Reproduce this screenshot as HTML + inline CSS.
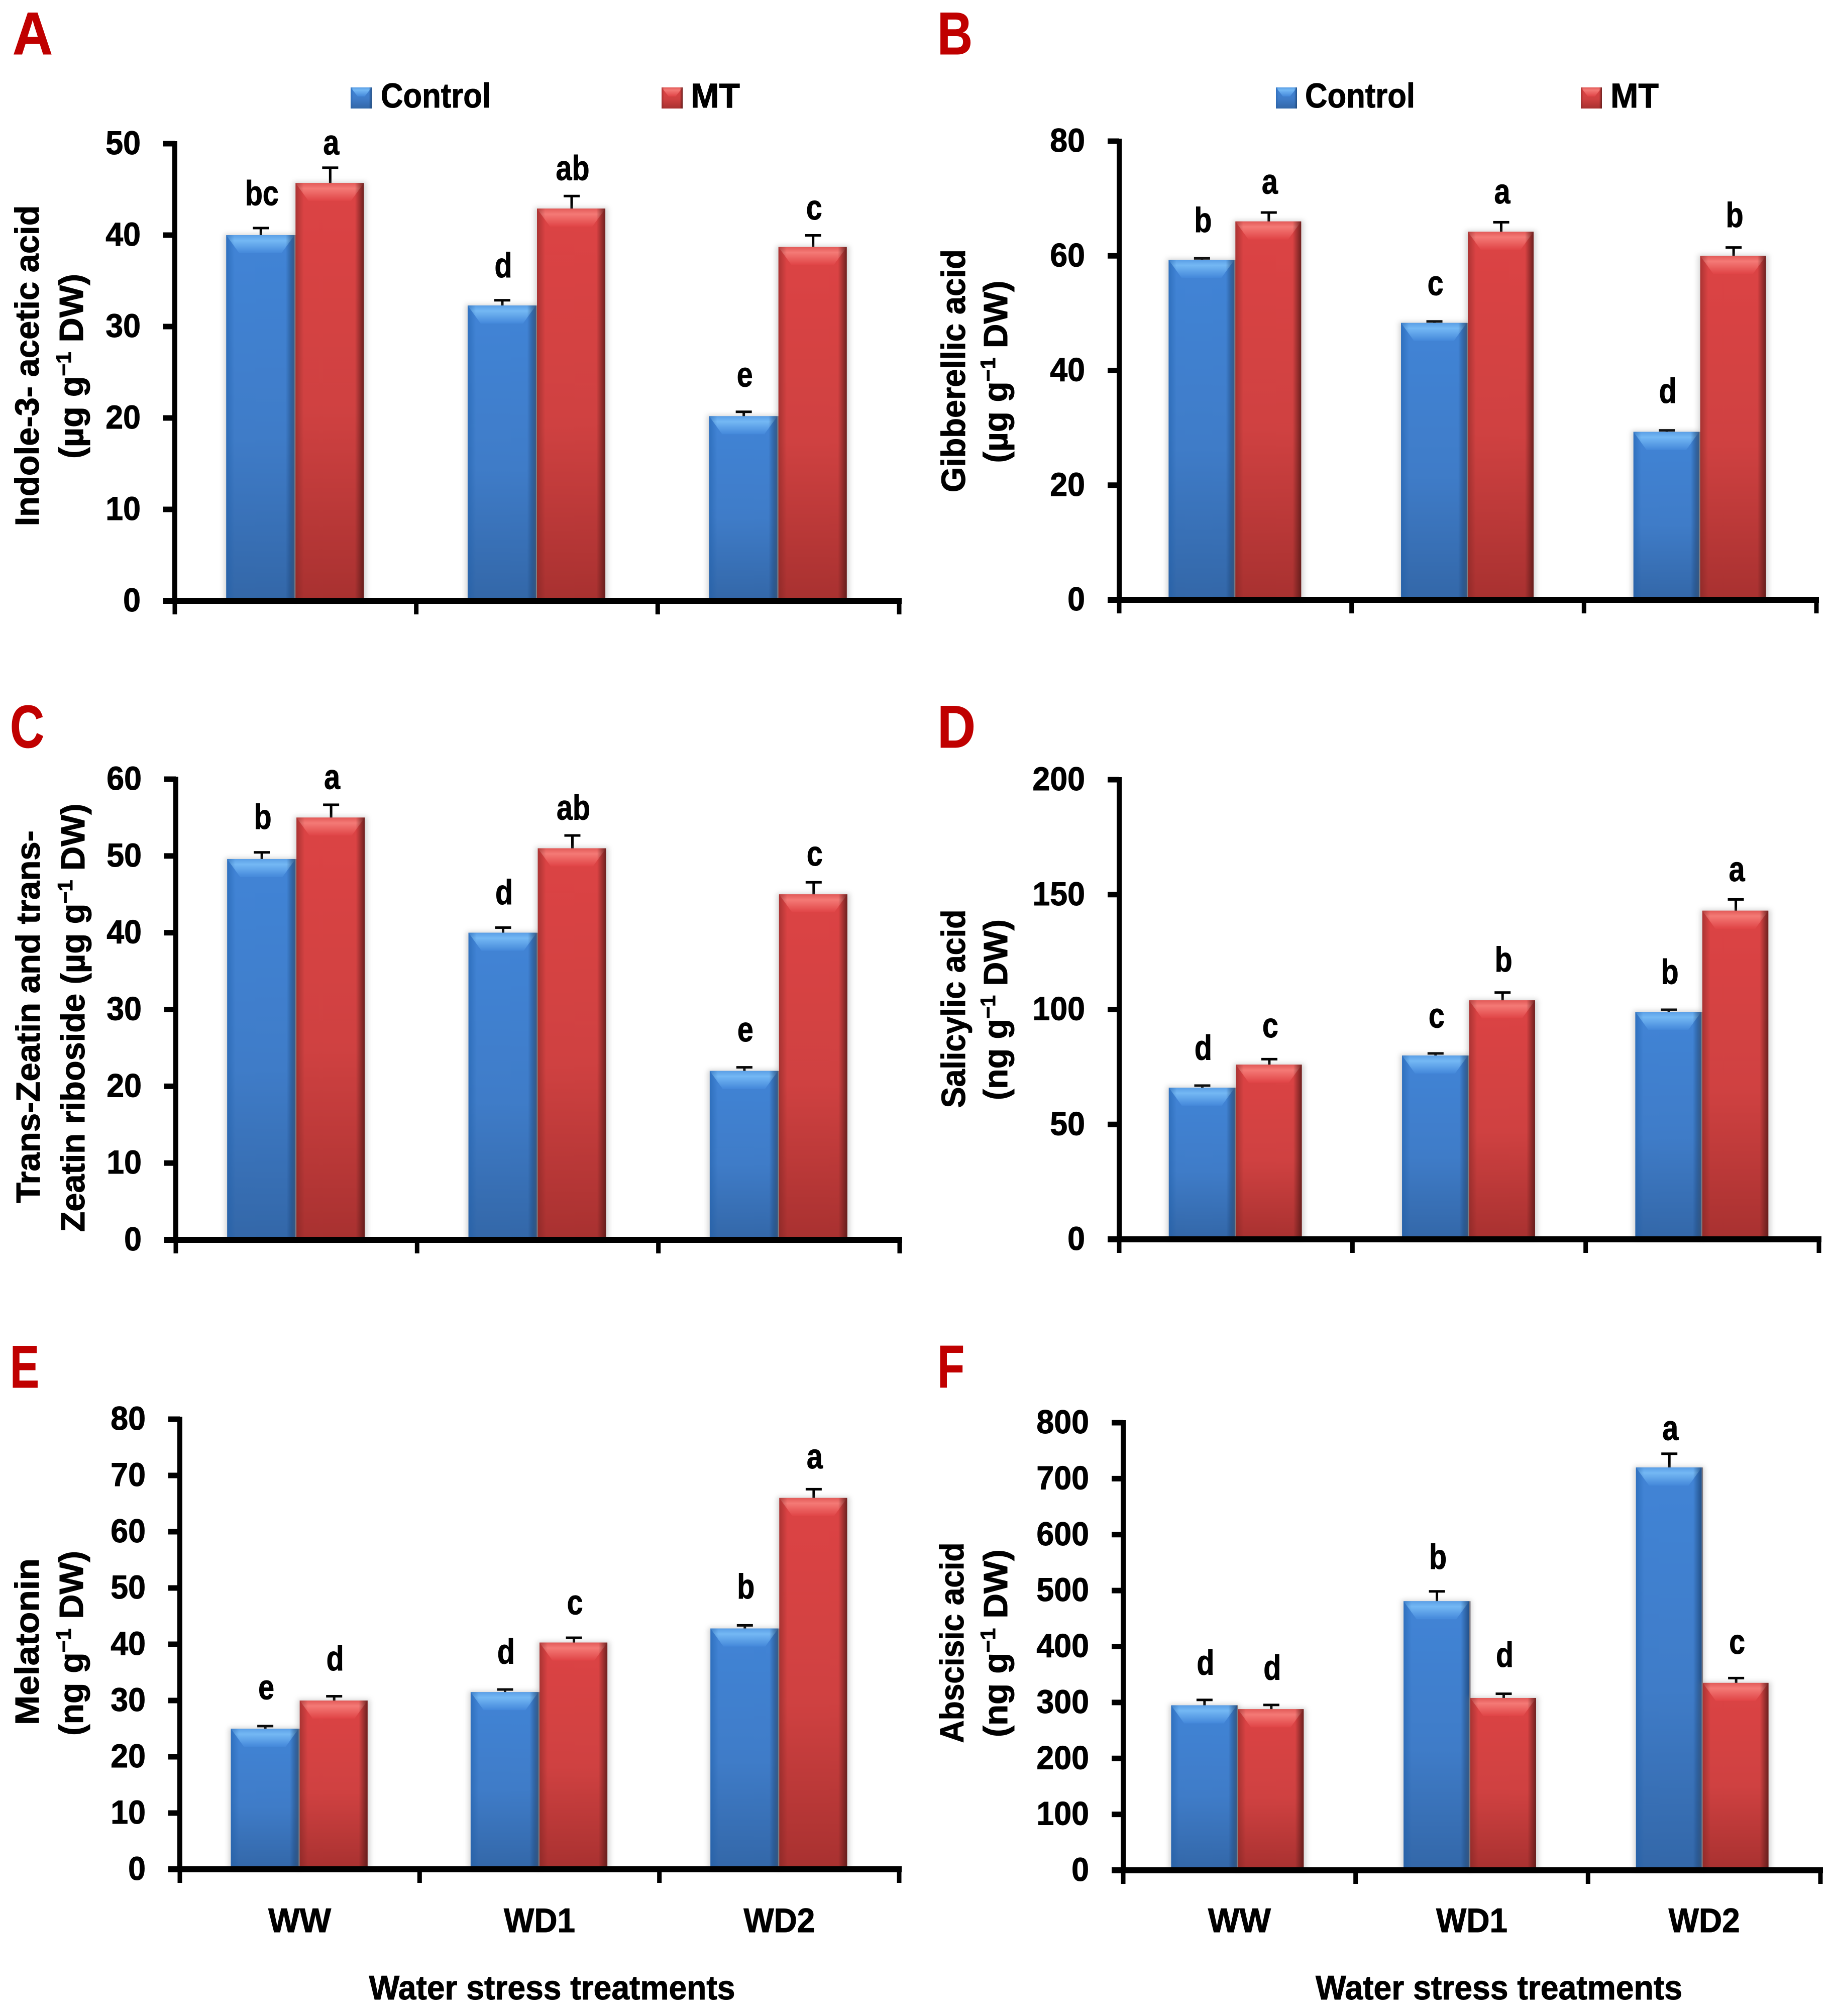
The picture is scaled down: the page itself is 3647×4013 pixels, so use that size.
<!DOCTYPE html>
<html lang="en">
<head>
<meta charset="utf-8">
<title>Hormone content under water stress treatments</title>
<style>
  html, body { margin: 0; padding: 0; background: #fff; }
  svg { display: block; }
  text { font-family: "Liberation Sans", Arial, sans-serif; font-weight: 700; fill: #000; stroke: #000; stroke-width: 1px; }
</style>
</head>
<body>
<svg id="figure" xmlns="http://www.w3.org/2000/svg" width="3647" height="4013" viewBox="0 0 3647 4013">
  <defs>
    <linearGradient id="blueBody" x1="0" y1="0" x2="0" y2="1">
      <stop offset="0" stop-color="#4184d6"/><stop offset="0.55" stop-color="#3f7cc8"/><stop offset="1" stop-color="#3367a8"/>
    </linearGradient>
    <linearGradient id="redBody" x1="0" y1="0" x2="0" y2="1">
      <stop offset="0" stop-color="#dc4344"/><stop offset="0.55" stop-color="#cf4141"/><stop offset="1" stop-color="#a83130"/>
    </linearGradient>
    <linearGradient id="blueBevel" x1="0" y1="0" x2="0" y2="1">
      <stop offset="0" stop-color="#5b9fe6"/><stop offset="0.3" stop-color="#74b8f4"/><stop offset="1" stop-color="#4488da"/>
    </linearGradient>
    <linearGradient id="redBevel" x1="0" y1="0" x2="0" y2="1">
      <stop offset="0" stop-color="#e25a58"/><stop offset="0.3" stop-color="#f47a76"/><stop offset="1" stop-color="#e04446"/>
    </linearGradient>
    <linearGradient id="blueSides" x1="0" y1="0" x2="1" y2="0">
      <stop offset="0" stop-color="#1d5da8" stop-opacity="0.5"/><stop offset="0.12" stop-color="#1d5da8" stop-opacity="0"/>
      <stop offset="0.87" stop-color="#173f70" stop-opacity="0"/><stop offset="1" stop-color="#173f70" stop-opacity="0.75"/>
    </linearGradient>
    <linearGradient id="redSides" x1="0" y1="0" x2="1" y2="0">
      <stop offset="0" stop-color="#7a2422" stop-opacity="0.5"/><stop offset="0.12" stop-color="#7a2422" stop-opacity="0"/>
      <stop offset="0.87" stop-color="#5a1a18" stop-opacity="0"/><stop offset="1" stop-color="#5a1a18" stop-opacity="0.85"/>
    </linearGradient>
    <filter id="barShadow" x="-20%" y="-10%" width="140%" height="120%"><feGaussianBlur stdDeviation="5"/></filter>
  </defs>
</svg>
<script>
// ---------- Shared categories and series ----------
var categories = ['WW', 'WD1', 'WD2'];
var seriesNames = ['Control', 'MT'];

// ---------- Panel A: Indole-3-acetic acid ----------
var aTicks = [0, 10, 20, 30, 40, 50];
var aControl = [40, 32.3, 20.2];
var aMT = [45.7, 42.9, 38.7];
var aControlErr = [0.8, 0.6, 0.5];
var aMTErr = [1.7, 1.4, 1.3];
var aControlLetters = ['bc', 'd', 'e'];
var aMTLetters = ['a', 'ab', 'c'];

// ---------- Panel B: Gibberellic acid ----------
var bTicks = [0, 20, 40, 60, 80];
var bControl = [59.3, 48.3, 29.3];
var bMT = [66, 64.2, 60];
var bControlErr = [0.3, 0.3, 0.3];
var bMTErr = [1.6, 1.7, 1.5];
var bControlLetters = ['b', 'c', 'd'];
var bMTLetters = ['a', 'a', 'b'];

// ---------- Panel C: Trans-Zeatin and trans-Zeatin riboside ----------
var cTicks = [0, 10, 20, 30, 40, 50, 60];
var cControl = [49.6, 40, 22];
var cMT = [55, 51, 45];
var cControlErr = [0.9, 0.7, 0.5];
var cMTErr = [1.7, 1.7, 1.6];
var cControlLetters = ['b', 'd', 'e'];
var cMTLetters = ['a', 'ab', 'c'];

// ---------- Panel D: Salicylic acid ----------
var dTicks = [0, 50, 100, 150, 200];
var dControl = [66, 80, 99];
var dMT = [76, 104, 143];
var dControlErr = [1, 1, 1];
var dMTErr = [2.5, 3.5, 5];
var dControlLetters = ['d', 'c', 'b'];
var dMTLetters = ['c', 'b', 'a'];

// ---------- Panel E: Melatonin ----------
var eTicks = [0, 10, 20, 30, 40, 50, 60, 70, 80];
var eControl = [25, 31.5, 42.8];
var eMT = [30, 40.3, 66];
var eControlErr = [0.5, 0.5, 0.6];
var eMTErr = [0.8, 0.9, 1.6];
var eControlLetters = ['e', 'd', 'b'];
var eMTLetters = ['d', 'c', 'a'];

// ---------- Panel F: Abscisic acid ----------
var fTicks = [0, 100, 200, 300, 400, 500, 600, 700, 800];
var fControl = [295, 481, 720];
var fMT = [288, 308, 335];
var fControlErr = [10, 18, 25];
var fMTErr = [8, 8, 9];
var fControlLetters = ['d', 'b', 'a'];
var fMTLetters = ['d', 'd', 'c'];

// ---------- Drawing ----------
var SVGNS = 'http://www.w3.org/2000/svg';
var root = document.getElementById('figure');

function make(parent, tag, attrs) {
  var el = document.createElementNS(SVGNS, tag);
  for (var k in attrs) el.setAttribute(k, attrs[k]);
  parent.appendChild(el);
  return el;
}

// Places a text at (x,y), optionally rotated, squeezed horizontally to a target width.
function placeText(el, x, y, rotate, width, squeeze) {
  var sx = squeeze || 1;
  if (width) sx = width / el.getComputedTextLength();
  el.setAttribute('transform', 'translate(' + x + ',' + y + ') rotate(' + (rotate || 0) + ') scale(' + sx + ',1)');
}

function drawTitleLine(g, parts, size, cfg, name) {
  var t = make(g, 'text', { 'font-size': size, 'text-anchor': 'middle' });
  
  
  parts.forEach(function (p) {
    if (p.sup) {
      var s = make(t, 'tspan', { 'font-size': size * 0.62, dy: -size * 0.36 });
      s.textContent = p.text;
      var back = make(t, 'tspan', { dy: size * 0.36 });
      back.textContent = '\u200b';
    } else {
      var n = make(t, 'tspan', {});
      n.textContent = p.text;
    }
  });
  placeText(t, cfg.x, cfg.y, -90, cfg.len);
}

function drawBar(g, x, w, yTop, yBase, kind, name) {
  var bar = make(g, 'g', {});
  
  
  var h = yBase - yTop;
  var bevelH = Math.min(36, h);
  var inset = 26;
  make(bar, 'rect', { x: x - 4, y: yTop - 2, width: w + 9, height: h + 2, fill: '#888', opacity: 0.35, filter: 'url(#barShadow)' });
  make(bar, 'rect', { x: x, y: yTop, width: w, height: h, fill: 'url(#' + kind + 'Body)' });
  make(bar, 'polygon', {
    points: x + ',' + yTop + ' ' + (x + w) + ',' + yTop + ' ' + (x + w - inset) + ',' + (yTop + bevelH) + ' ' + (x + inset) + ',' + (yTop + bevelH),
    fill: 'url(#' + kind + 'Bevel)'
  });
  make(bar, 'rect', { x: x, y: yTop, width: w, height: h, fill: 'url(#' + kind + 'Sides)' });
  if (kind === 'blue') {
    make(bar, 'rect', { x: x + w, y: yTop, width: 2.5, height: h, fill: '#7d7a82' });
  }
}

function drawPanel(p) {
  var g = make(root, 'g', {});
  
  

  var yMax = p.ticks[p.ticks.length - 1];
  function yScale(v) { return p.y0 + (p.yTop - p.y0) * v / yMax; }
  var step = (p.x1 - p.x0) / categories.length;
  function xCenter(i) { return p.x0 + (i + 0.5) * step + p.shift; }
  var barW = step * 0.283;

  // panel letter
  var letter = make(g, 'text', { 'font-size': 120, style: 'fill:#c00000;stroke:#c00000' });
  
  
  letter.textContent = p.id;
  placeText(letter, p.letterX, p.letterY, 0, p.letterW);

  // legend
  if (p.legend) {
    var lg = make(g, 'g', {});
    
    
    seriesNames.forEach(function (s, i) {
      var kind = i === 0 ? 'blue' : 'red';
      var e = p.legend[i];
      var sw = make(lg, 'g', {});
      
      
      make(sw, 'rect', { x: e.x, y: 174, width: 42, height: 42, fill: 'url(#' + kind + 'Body)' });
      make(sw, 'polygon', { points: e.x + ',174 ' + (e.x + 42) + ',174 ' + (e.x + 28) + ',192 ' + (e.x + 14) + ',192', fill: 'url(#' + kind + 'Bevel)' });
      make(sw, 'rect', { x: e.x, y: 174, width: 42, height: 42, fill: 'url(#' + kind + 'Sides)' });
      var t = make(lg, 'text', { 'font-size': 69 });
      
      
      t.textContent = s;
      placeText(t, e.tx, 214, 0, e.tw);
    });
  }

  // y axis title
  drawTitleLine(g, p.title1, 67, p.t1, 'y-axis-title');
  drawTitleLine(g, p.title2, 67, p.t2, 'y-axis-unit');

  // bars, error bars and letters
  var series = [
    { kind: 'blue', name: 'control', vals: p.control, errs: p.controlErr, letters: p.controlLetters, gaps: p.gaps[0] },
    { kind: 'red', name: 'mt', vals: p.mt, errs: p.mtErr, letters: p.mtLetters, gaps: p.gaps[1] }
  ];
  series.forEach(function (s, si) {
    categories.forEach(function (cat, i) {
      var x = si === 0 ? xCenter(i) - 2 - barW : xCenter(i);
      var cx = x + barW / 2 + 1;
      var top = yScale(s.vals[i]);
      var cap = yScale(s.vals[i] + s.errs[i]);

      var err = make(g, 'g', {});
      
      
      make(err, 'rect', { x: cx - 2.5, y: cap, width: 5, height: top - cap + 2, fill: '#000' });
      make(err, 'rect', { x: cx - 16, y: cap - 2, width: 32, height: 5, fill: '#000' });

      drawBar(g, x, barW, top, p.y0, s.kind, 'bar-' + s.name + '-' + cat.toLowerCase());

      var lab = make(g, 'text', { 'font-size': 70, 'text-anchor': 'middle' });
      
      
      lab.textContent = s.letters[i];
      placeText(lab, cx + 2, cap - s.gaps[i], 0, 0, 0.82);
    });
  });

  // axes
  var axes = make(g, 'g', {});
  
  
  var yLine = make(axes, 'rect', { x: p.x0 - 5, y: p.yTop - 5, width: 10, height: p.y0 - p.yTop + 10, fill: '#000' });
  
  
  var xLine = make(axes, 'rect', { x: p.x0 - 23, y: p.y0 - 6, width: p.x1 - p.x0 + 28, height: 12, fill: '#000' });
  
  

  p.ticks.forEach(function (v) {
    var y = yScale(v);
    var tick = make(axes, 'rect', { x: p.x0 - 23, y: y - 5.5, width: 23, height: 11, fill: '#000' });
    
    
    var lab = make(axes, 'text', { 'font-size': 66, 'text-anchor': 'end' });
    
    
    lab.textContent = v;
    placeText(lab, p.x0 - 68, y + 21, 0, 0, 0.95);
  });

  for (var i = 0; i <= categories.length; i++) {
    var tx = p.x0 + i * step;
    var xt = make(axes, 'rect', { x: tx - 4.5, y: p.y0, width: 9, height: 27, fill: '#000' });
    
    
  }

  if (p.xTitle) {
    categories.forEach(function (cat, i) {
      var t = make(axes, 'text', { 'font-size': 68, 'text-anchor': 'middle' });
      
      
      t.textContent = cat;
      placeText(t, p.x0 + (i + 0.5) * step, 3846, 0, cat === 'WW' ? 125 : 142);
    });
    var xt2 = make(axes, 'text', { 'font-size': 68, 'text-anchor': 'middle' });
    
    
    xt2.textContent = 'Water stress treatments';
    placeText(xt2, p.xTitle.x, 3980, 0, p.xTitle.len);
  }
}

var ugUnit = [{ text: '(\u00b5g g' }, { text: '\u22121', sup: true }, { text: ' DW)' }];
var ngUnit = [{ text: '(ng g' }, { text: '\u22121', sup: true }, { text: ' DW)' }];

drawPanel({
  id: 'A', ticks: aTicks, control: aControl, mt: aMT, controlErr: aControlErr, mtErr: aMTErr,
  controlLetters: aControlLetters, mtLetters: aMTLetters,
  gaps: [[45, 45, 50], [26, 31, 31]],
  x0: 348, x1: 1790, y0: 1196, yTop: 286, shift: 0,
  letterX: 25, letterY: 108, letterW: 80,
  legend: [{ x: 698, tx: 758, tw: 219 }, { x: 1317, tx: 1375, tw: 98 }],
  title1: [{ text: 'Indole-3- acetic acid' }], title2: ugUnit,
  t1: { x: 77, y: 728, len: 639 }, t2: { x: 165, y: 729, len: 368 }
});
drawPanel({
  id: 'B', ticks: bTicks, control: bControl, mt: bMT, controlErr: bControlErr, mtErr: bMTErr,
  controlLetters: bControlLetters, mtLetters: bMTLetters,
  gaps: [[52, 52, 54], [37, 37, 40]],
  x0: 2228, x1: 3616, y0: 1194, yTop: 281, shift: 0,
  letterX: 1866, letterY: 108, letterW: 70,
  legend: [{ x: 2540, tx: 2598, tw: 219 }, { x: 3147, tx: 3206, tw: 96 }],
  title1: [{ text: 'Gibberellic acid' }], title2: ugUnit,
  t1: { x: 1921, y: 738, len: 484 }, t2: { x: 2005, y: 740, len: 363 }
});
drawPanel({
  id: 'C', ticks: cTicks, control: cControl, mt: cMT, controlErr: cControlErr, mtErr: cMTErr,
  controlLetters: cControlLetters, mtLetters: cMTLetters,
  gaps: [[46, 46, 51], [31, 31, 33]],
  x0: 350, x1: 1791, y0: 2468, yTop: 1551, shift: 0,
  letterX: 20, letterY: 1488, letterW: 68,
  title1: [{ text: 'Trans-Zeatin and trans-' }],
  title2: [{ text: 'Zeatin riboside (\u00b5g g' }, { text: '\u22121', sup: true }, { text: ' DW)' }],
  t1: { x: 79, y: 2024, len: 742 }, t2: { x: 168, y: 2026, len: 853 }
});
drawPanel({
  id: 'D', ticks: dTicks, control: dControl, mt: dMT, controlErr: dControlErr, mtErr: dMTErr,
  controlLetters: dControlLetters, mtLetters: dMTLetters,
  gaps: [[51, 51, 51], [43, 41, 36]],
  x0: 2228, x1: 3621, y0: 2467, yTop: 1552, shift: 0,
  letterX: 1866, letterY: 1488, letterW: 76,
  title1: [{ text: 'Salicylic acid' }], title2: ngUnit,
  t1: { x: 1921, y: 2008, len: 395 }, t2: { x: 2005, y: 2010, len: 360 }
});
drawPanel({
  id: 'E', ticks: eTicks, control: eControl, mt: eMT, controlErr: eControlErr, mtErr: eMTErr,
  controlLetters: eControlLetters, mtLetters: eMTLetters,
  gaps: [[53, 51, 53], [51, 46, 41]],
  x0: 358, x1: 1790, y0: 3721, yTop: 2825, shift: 0,
  letterX: 20, letterY: 2762, letterW: 58,
  title1: [{ text: 'Melatonin' }], title2: ngUnit,
  t1: { x: 77, y: 3268, len: 332 }, t2: { x: 165, y: 3271, len: 368 },
  xTitle: { x: 1099, len: 729 }
});
drawPanel({
  id: 'F', ticks: fTicks, control: fControl, mt: fMT, controlErr: fControlErr, mtErr: fMTErr,
  controlLetters: fControlLetters, mtLetters: fMTLetters,
  gaps: [[50, 44, 27], [50, 53, 48]],
  x0: 2236, x1: 3624, y0: 3723, yTop: 2832, shift: -3,
  letterX: 1866, letterY: 2762, letterW: 54,
  title1: [{ text: 'Abscisic acid' }], title2: ngUnit,
  t1: { x: 1918, y: 3270, len: 399 }, t2: { x: 2005, y: 3271, len: 374 },
  xTitle: { x: 2984, len: 730 }
});
</script>
</body>
</html>
